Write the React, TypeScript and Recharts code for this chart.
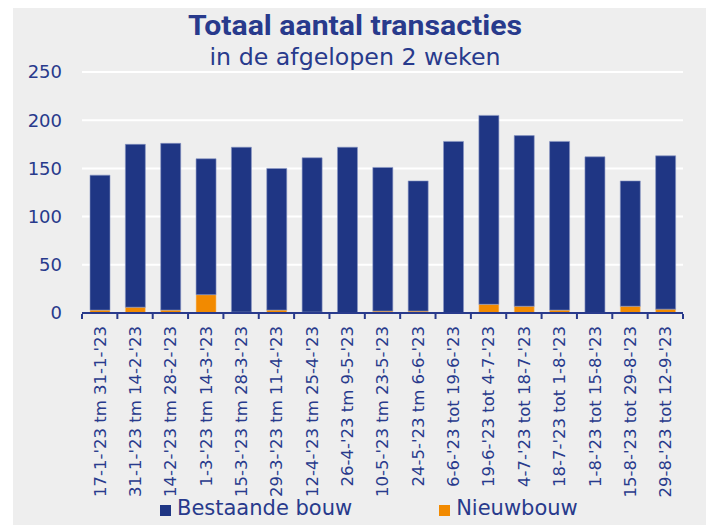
import { BarChart, Bar, XAxis, YAxis, CartesianGrid, Legend } from 'recharts'

const periods = [
  "17-1-'23 tm 31-1-'23",
  "31-1-'23 tm 14-2-'23",
  "14-2-'23 tm 28-2-'23",
  "1-3-'23 tm 14-3-'23",
  "15-3-'23 tm 28-3-'23",
  "29-3-'23 tm 11-4-'23",
  "12-4-'23 tm 25-4-'23",
  "26-4-'23 tm 9-5-'23",
  "10-5-'23 tm 23-5-'23",
  "24-5-'23 tm 6-6-'23",
  "6-6-'23 tot 19-6-'23",
  "19-6-'23 tot 4-7-'23",
  "4-7-'23 tot 18-7-'23",
  "18-7-'23 tot 1-8-'23",
  "1-8-'23 tot 15-8-'23",
  "15-8-'23 tot 29-8-'23",
  "29-8-'23 tot 12-9-'23",
]
const bestaandeBouw = [140, 169, 173, 141, 171, 147, 160, 172, 149, 135, 178, 196, 177, 175, 162, 130, 159]
const nieuwbouw = [3, 6, 3, 19, 1, 3, 1, 0, 2, 2, 0, 9, 7, 3, 0, 7, 4]
const yTicks = [0, 50, 100, 150, 200, 250]

const data = periods.map((period, i) => ({
  period,
  bestaande: bestaandeBouw[i],
  nieuw: nieuwbouw[i],
}))

const NAVY = '#283a8c'
const DARK = '#1f3684'
const ORANGE = '#f28a00'
const FONT = 'DejaVu Sans'

const W = 693
const H = 517
const MARGIN = { top: 64, right: 23, left: 0, bottom: 0 }
const Y_W = 69
const STEP = (W - MARGIN.right - Y_W) / periods.length

function PeriodTick(props: any) {
  const { x, y, payload, index } = props
  const axisY = y - 12
  return (
    <g>
      <line x1={x - STEP / 2} x2={x - STEP / 2} y1={axisY} y2={axisY + 5} stroke={NAVY} strokeWidth={2} />
      {index === periods.length - 1 && (
        <line x1={x + STEP / 2} x2={x + STEP / 2} y1={axisY} y2={axisY + 5} stroke={NAVY} strokeWidth={2} />
      )}
      <text
        x={x}
        y={y}
        dy="0.36em"
        transform={`rotate(-90, ${x}, ${y})`}
        textAnchor="end"
        fill={NAVY}
        fontFamily={FONT}
        fontSize={16.5}
      >
        {payload.value}
      </text>
    </g>
  )
}

function LegendBox() {
  const item = (color: string, label: string, mr: number) => (
    <div style={{ display: 'flex', alignItems: 'center', marginRight: mr }}>
      <span style={{ width: 11, height: 11, background: color, display: 'inline-block', marginRight: 6, marginTop: 4 }} />
      <span>{label}</span>
    </div>
  )
  return (
    <div style={{ display: 'flex', fontFamily: FONT, fontSize: 21, color: NAVY }}>
      {item(DARK, 'Bestaande bouw', 87)}
      {item(ORANGE, 'Nieuwbouw', 0)}
    </div>
  )
}

export default function App() {
  return (
    <div style={{ marginLeft: 5, width: W, height: H, background: '#eeeeee', position: 'relative' }}>
      <BarChart width={W} height={H} data={data} margin={MARGIN} barSize={20}>
        <CartesianGrid vertical={false} stroke="#ffffff" strokeWidth={2} />
        <YAxis
          domain={[0, 250]}
          ticks={yTicks}
          width={Y_W}
          axisLine={false}
          tickLine={false}
          tickSize={0}
          tickMargin={20}
          tick={{ fill: NAVY, fontFamily: FONT, fontSize: 18 }}
        />
        <XAxis
          dataKey="period"
          interval={0}
          height={212}
          axisLine={{ stroke: NAVY, strokeWidth: 2 }}
          tickLine={false}
          tickSize={5}
          tickMargin={8}
          tick={<PeriodTick />}
        />
        <Legend
          layout="horizontal"
          verticalAlign="middle"
          align="center"
          wrapperStyle={{ top: 488, left: 147, width: 500 }}
          content={<LegendBox />}
        />
        <Bar dataKey="nieuw" stackId="a" fill={ORANGE} stroke="#f5c98a" strokeWidth={0.5} isAnimationActive={false} />
        <Bar dataKey="bestaande" stackId="a" fill={DARK} stroke="#8a97c4" strokeWidth={0.6} isAnimationActive={false} />
      </BarChart>
      <svg width={W} height={80} style={{ position: 'absolute', left: 0, top: 0, pointerEvents: 'none' }}>
        <text
          x={342}
          y={27}
          textAnchor="middle"
          fill={NAVY}
          fontFamily="Roboto"
          fontWeight={700}
          fontSize={28}
          textLength={334}
          lengthAdjust="spacingAndGlyphs"
        >
          Totaal aantal transacties
        </text>
        <text
          x={342}
          y={57}
          textAnchor="middle"
          fill={NAVY}
          fontFamily={FONT}
          fontSize={23}
          textLength={291}
          lengthAdjust="spacingAndGlyphs"
        >
          in de afgelopen 2 weken
        </text>
      </svg>
    </div>
  )
}
